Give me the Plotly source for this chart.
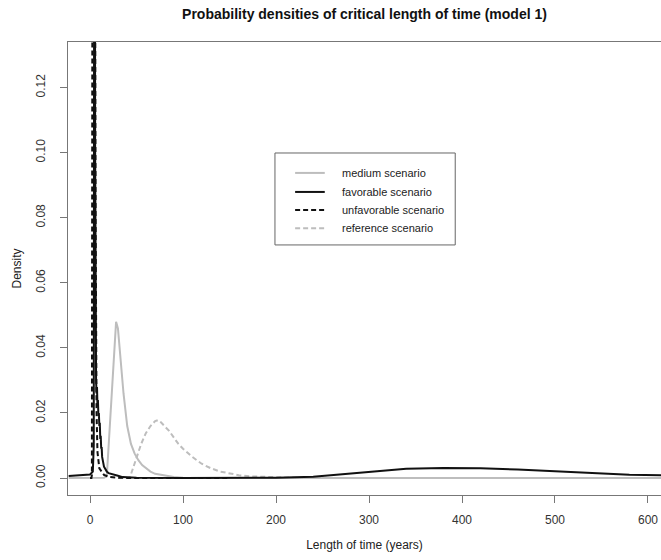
import plotly.graph_objects as go

# ---- data ----
medium_x = [-23, 10, 15, 18, 20, 22, 24, 26, 28, 30, 33, 36, 40, 44, 48, 52, 56, 60, 65, 70, 80, 90, 100, 120, 150, 200, 300, 400, 500, 620]
medium_y = [0, 0, 0.0001, 0.0005, 0.01, 0.02, 0.03, 0.04, 0.048, 0.046, 0.036, 0.026, 0.016, 0.0105, 0.0075, 0.0055, 0.004, 0.003, 0.002, 0.0013, 0.0007, 0.0003, 0.0001, 0, 0, 0, 0, 0, 0, 0]

reference_x = [30, 40, 43, 46, 50, 52, 55, 60, 65, 70, 73, 76, 80, 85, 90, 95, 100, 110, 120, 130, 140, 150, 160, 175, 190, 210, 230, 250]
reference_y = [0, 0, 0.0003, 0.003, 0.0065, 0.008, 0.0105, 0.0138, 0.016, 0.0175, 0.0178, 0.0172, 0.016, 0.0145, 0.0125, 0.0105, 0.009, 0.0065, 0.0044, 0.003, 0.002, 0.0014, 0.0009, 0.0005, 0.0003, 0.0002, 0.0001, 0]

favorable_x = [-23, -15, -5, 0, 3, 4, 4.5, 5, 5.5, 6, 6.5, 7, 7.5, 8, 8.5, 9, 9.5, 10, 10.5, 11, 11.5, 12, 12.5, 13, 14, 15, 16, 18, 20, 25, 30, 35, 50, 100, 200, 240, 260, 300, 340, 380, 420, 460, 500, 540, 580, 620]
favorable_y = [0.0006, 0.0008, 0.001, 0.0011, 0.002, 0.01, 0.2, 0.25, 0.1, 0.045, 0.03, 0.026, 0.028, 0.022, 0.024, 0.019, 0.02, 0.016, 0.017, 0.012, 0.013, 0.009, 0.0095, 0.0065, 0.0048, 0.0035, 0.003, 0.002, 0.0015, 0.001, 0.0007, 0.0003, 0.0001, 0, 0.0001, 0.0004, 0.0009, 0.0021, 0.0029, 0.0031, 0.003, 0.0026, 0.002, 0.0014, 0.001, 0.0008]

unfavorable_x = [0, 1.5, 2, 2.3, 3, 4, 5, 5.5, 6, 6.5, 7, 8, 10, 15, 20, 30, 50, 100, 150]
unfavorable_y = [0, 0, 0.001, 0.2, 0.3, 0.3, 0.25, 0.15, 0.08, 0.04, 0.02, 0.008, 0.003, 0.001, 0.0004, 0.0001, 0, 0, 0]

series_names = ["medium scenario", "favorable scenario", "unfavorable scenario", "reference scenario"]
x_ticks = [0, 100, 200, 300, 400, 500, 600]
y_ticks = [0.00, 0.02, 0.04, 0.06, 0.08, 0.10, 0.12]

GRAY = "#bdbdbd"
BLACK = "#111111"
FONT = "Liberation Sans, Arial, sans-serif"

styles = {
    "medium scenario": dict(color=GRAY, width=2, dash="solid"),
    "favorable scenario": dict(color=BLACK, width=2, dash="solid"),
    "unfavorable scenario": dict(color=BLACK, width=2, dash="5px,3px"),
    "reference scenario": dict(color=GRAY, width=2, dash="5px,3px"),
}

fig = go.Figure()
fig.add_trace(go.Scatter(x=medium_x, y=medium_y, mode="lines", name=series_names[0], line=styles[series_names[0]], showlegend=False))
fig.add_trace(go.Scatter(x=reference_x, y=reference_y, mode="lines", name=series_names[3], line=styles[series_names[3]], showlegend=False))
fig.add_trace(go.Scatter(x=favorable_x, y=favorable_y, mode="lines", name=series_names[1], line=styles[series_names[1]], showlegend=False))
fig.add_trace(go.Scatter(x=unfavorable_x, y=unfavorable_y, mode="lines", name=series_names[2], line=styles[series_names[2]], showlegend=False))

# custom legend box (R-style)
fig.add_shape(type="rect", xref="paper", yref="paper", x0=0.349, x1=0.653, y0=0.552, y1=0.755,
              line=dict(color="#666666", width=1), fillcolor="white", layer="above")
leg_y = [0.711, 0.669, 0.629, 0.589]
for name, yy in zip(series_names, leg_y):
    st = styles[name]
    fig.add_shape(type="line", xref="paper", yref="paper", x0=0.383, x1=0.433, y0=yy, y1=yy,
                  line=dict(color=st["color"], width=st["width"], dash=st["dash"]), layer="above")
    fig.add_annotation(xref="paper", yref="paper", x=0.459, y=yy, text=name, showarrow=False,
                       xanchor="left", yanchor="middle", font=dict(family=FONT, size=11, color="#222222"))

fig.update_layout(
    width=661, height=560,
    margin=dict(l=68, r=0, t=42, b=65),
    paper_bgcolor="white", plot_bgcolor="white",
    font=dict(family=FONT, size=12, color="#222222"),
    title=dict(text="<b>Probability densities of critical length of time (model 1)</b>",
               x=(68 + 661) / 2 / 661, xanchor="center", y=1 - 14 / 560, yanchor="middle",
               font=dict(family=FONT, size=14, color="#111111")),
    showlegend=False,
)
fig.update_xaxes(range=[-23.7, 614], tickvals=x_ticks, ticktext=[str(v) for v in x_ticks],
                 showgrid=False, zeroline=False, showline=True, mirror=True, linecolor="#777777", linewidth=1,
                 ticks="outside", ticklen=7, tickcolor="#777777", tickfont=dict(size=12, color="#333333"),
                 ticklabelstandoff=7,
                 title=dict(text="Length of time (years)", standoff=14, font=dict(size=12, color="#222222")))
fig.update_yaxes(range=[-0.0052, 0.134], tickvals=y_ticks, ticktext=[f"{v:.2f}" for v in y_ticks],
                 tickangle=-90,
                 showgrid=False, zeroline=False, showline=True, mirror=True, linecolor="#777777", linewidth=1,
                 ticks="outside", ticklen=7, tickcolor="#777777", tickfont=dict(size=12, color="#333333"),
                 ticklabelstandoff=10,
                 title=dict(text="Density", standoff=10, font=dict(size=12, color="#222222")))

fig.write_html("out.html")
